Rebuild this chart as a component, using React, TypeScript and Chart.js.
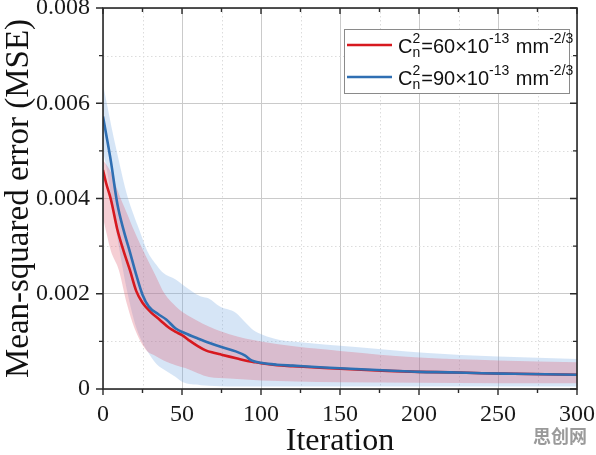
import { useEffect, useRef } from 'react';
import { Chart, registerables } from 'chart.js';

Chart.register(...registerables);

// Mean MSE curves (iteration, value)
const redIter = [0, 2, 5, 9, 13, 17, 21, 25, 30, 36, 42, 46, 50, 55, 60, 65, 70, 75, 80, 85, 90, 95, 100, 110, 120, 140, 160, 180, 200, 220, 240, 260, 280, 300];
const redMse = [0.0046, 0.00432, 0.00398, 0.00336, 0.0029, 0.0025, 0.00206, 0.00181, 0.00162, 0.00145, 0.00128, 0.0012, 0.00113, 0.00101, 0.0009, 0.00081, 0.00076, 0.00072, 0.00068, 0.00064, 0.0006, 0.00057, 0.00054, 0.0005, 0.00048, 0.00044, 0.00041, 0.00038, 0.00036, 0.00035, 0.00033, 0.00032, 0.00031, 0.0003];

const blueIter = [0, 2, 5, 9, 13, 17, 21, 25, 29, 35, 40, 46, 52, 60, 67, 75, 84, 90, 94, 100, 110, 120, 140, 160, 180, 200, 220, 240, 260, 280, 300];
const blueMse = [0.00572, 0.00535, 0.00478, 0.0039, 0.00334, 0.00288, 0.0024, 0.00198, 0.00173, 0.00157, 0.00146, 0.00127, 0.00117, 0.00106, 0.00097, 0.00088, 0.00079, 0.0007, 0.0006, 0.00055, 0.00051, 0.00049, 0.00045, 0.00042, 0.00039, 0.00036, 0.00035, 0.00033, 0.00032, 0.00031, 0.0003];

// Spread bands (upper / lower bounds)
const redBandIter = [0, 2, 5, 10, 15, 20, 27, 33, 39, 46, 52, 60, 67, 80, 90, 100, 122, 150, 200, 250, 300];
const redUpper = [0.0048, 0.00472, 0.00455, 0.0041, 0.0037, 0.0033, 0.0028, 0.0024, 0.002, 0.00174, 0.00158, 0.00143, 0.00131, 0.00115, 0.00106, 0.001, 0.00089, 0.0008, 0.00066, 0.0006, 0.00056];
const redLower = [0.0036, 0.0033, 0.0029, 0.0025, 0.0018, 0.00127, 0.00083, 0.0007, 0.00059, 0.0005, 0.00044, 0.00033, 0.00025, 0.00022, 0.0002, 0.00018, 0.00016, 0.00014, 0.00013, 0.00012, 0.00012];

const blueBandIter = [0, 3, 6, 10, 15, 20, 23, 28, 34, 38, 46, 50, 62, 67, 74, 84, 90, 95, 101, 112, 120, 160, 203, 250, 300];
const blueUpper = [0.0064, 0.0059, 0.0054, 0.0048, 0.0041, 0.0036, 0.00334, 0.0029, 0.0026, 0.00244, 0.0023, 0.0022, 0.00194, 0.0019, 0.00173, 0.0016, 0.0014, 0.00124, 0.00114, 0.00103, 0.001, 0.00088, 0.00076, 0.00068, 0.00063];
const blueLower = [0.005, 0.0045, 0.0038, 0.003, 0.0021, 0.0014, 0.00112, 0.0008, 0.00052, 0.00042, 0.00025, 0.00015, 0.00008, 0.00007, 0.00006, 0.00005, 0.00005, 0.00005, 0.00005, 0.00005, 0.00005, 0.00005, 0.00005, 0.00005, 0.00005];

// Legend: C_n^2 values (×10^-13 mm^-2/3)
const legendValues = ['60', '90'];

const X_MIN = 0;
const X_MAX = 300;
const X_STEP = 25;
const Y_MIN = 0;
const Y_MAX = 0.008;
const Y_STEP = 0.001;

const RED = '#d7191f';
const BLUE = '#2f6fb3';
const RED_FILL = 'rgba(222, 92, 112, 0.30)';
const BLUE_FILL = 'rgba(120, 170, 225, 0.30)';
const GRID = '#cacaca';
const MINOR_GRID = '#dcdcdc';
const FRAME = '#2a2a2a';

const SERIF = "'Liberation Serif', 'Times New Roman', Times, serif";
const SANS = "'Liberation Sans', Arial, Helvetica, sans-serif";
const CJK = "'Noto Sans CJK SC', 'Noto Sans CJK TC', sans-serif";

const pts = (xs: number[], ys: number[]) => xs.map((x, i) => ({ x, y: ys[i] }));

const isMajorX = (v: number) => Math.round(v) % 50 === 0;
const isMajorY = (v: number) => Math.round(v * 1000) % 2 === 0;

// dotted minor grid lines
const minorGrid = {
  id: 'minorGrid',
  beforeDatasetsDraw(chart: any) {
    const { ctx, chartArea: a, scales } = chart;
    ctx.save();
    ctx.strokeStyle = MINOR_GRID;
    ctx.lineWidth = 1;
    ctx.setLineDash([1.5, 2.5]);
    for (let v = X_MIN + X_STEP; v < X_MAX; v += X_STEP) {
      if (isMajorX(v)) continue;
      const px = Math.round(scales.x.getPixelForValue(v)) + 0.5;
      ctx.beginPath();
      ctx.moveTo(px, a.top);
      ctx.lineTo(px, a.bottom);
      ctx.stroke();
    }
    for (let i = 1; i < Math.round((Y_MAX - Y_MIN) / Y_STEP); i++) {
      const v = Y_MIN + i * Y_STEP;
      if (isMajorY(v)) continue;
      const py = Math.round(scales.y.getPixelForValue(v)) + 0.5;
      ctx.beginPath();
      ctx.moveTo(a.left, py);
      ctx.lineTo(a.right, py);
      ctx.stroke();
    }
    ctx.restore();
  },
};

// box frame with tick marks: outward on left/bottom, inward on top/right
const frame = {
  id: 'frame',
  afterDatasetsDraw(chart: any) {
    const { ctx, chartArea: a, scales } = chart;
    ctx.save();
    ctx.strokeStyle = FRAME;
    ctx.lineWidth = 1.6;
    ctx.strokeRect(a.left, a.top, a.right - a.left, a.bottom - a.top);
    ctx.lineWidth = 1.4;
    ctx.beginPath();
    for (let v = X_MIN; v <= X_MAX; v += X_STEP) {
      const px = scales.x.getPixelForValue(v);
      const len = isMajorX(v) ? 6 : 4;
      ctx.moveTo(px, a.bottom);
      ctx.lineTo(px, a.bottom + len);
      ctx.moveTo(px, a.top);
      ctx.lineTo(px, a.top + len);
    }
    const n = Math.round((Y_MAX - Y_MIN) / Y_STEP);
    for (let i = 0; i <= n; i++) {
      const v = Y_MIN + i * Y_STEP;
      const py = scales.y.getPixelForValue(v);
      const len = isMajorY(v) ? 7 : 4;
      ctx.moveTo(a.left, py);
      ctx.lineTo(a.left - len, py);
      ctx.moveTo(a.right, py);
      ctx.lineTo(a.right - len, py);
    }
    ctx.stroke();
    ctx.restore();
  },
};

type Part = { t?: string; sup?: string; sub?: string };

function drawRich(ctx: CanvasRenderingContext2D, x: number, base: number, parts: Part[]) {
  const main = `20px ${SANS}`;
  const small = `14px ${SANS}`;
  let cx = x;
  for (const p of parts) {
    if (p.t) {
      ctx.font = main;
      ctx.fillText(p.t, cx, base);
      cx += ctx.measureText(p.t).width;
    } else {
      ctx.font = small;
      let w = 0;
      if (p.sup) {
        ctx.fillText(p.sup, cx, base - 10);
        w = Math.max(w, ctx.measureText(p.sup).width);
      }
      if (p.sub) {
        ctx.fillText(p.sub, cx, base + 4);
        w = Math.max(w, ctx.measureText(p.sub).width);
      }
      cx += w + 1;
    }
  }
}

const legendBox = {
  id: 'legendBox',
  afterDraw(chart: any) {
    const { ctx } = chart;
    ctx.save();
    const bx = 344.5, by = 29.5, bw = 225, bh = 64;
    ctx.fillStyle = '#ffffff';
    ctx.fillRect(bx, by, bw, bh);
    ctx.strokeStyle = '#8a8a8a';
    ctx.lineWidth = 1;
    ctx.strokeRect(bx, by, bw, bh);
    const colors = [RED, BLUE];
    legendValues.forEach((val, i) => {
      const base = 53 + i * 32;
      ctx.strokeStyle = colors[i];
      ctx.lineWidth = 2.5;
      ctx.beginPath();
      ctx.moveTo(347, base - 8);
      ctx.lineTo(392, base - 8);
      ctx.stroke();
      ctx.fillStyle = '#111';
      ctx.textBaseline = 'alphabetic';
      ctx.textAlign = 'left';
      drawRich(ctx, 398, base, [
        { t: 'C' },
        { sup: '2', sub: 'n' },
        { t: `=${val}×10` },
        { sup: '-13' },
        { t: ' mm' },
        { sup: '-2/3' },
      ]);
    });
    // site mark
    ctx.font = `bold 18px ${CJK}`;
    ctx.fillStyle = 'rgba(120,120,120,0.75)';
    ctx.fillText('思创网', 533, 443);
    ctx.restore();
  },
};

export default function App() {
  const ref = useRef<HTMLCanvasElement | null>(null);

  useEffect(() => {
    if (!ref.current) return;
    const chart = new Chart(ref.current, {
      type: 'line',
      data: {
        datasets: [
          {
            label: 'blue',
            data: pts(blueIter, blueMse),
            borderColor: BLUE,
            borderWidth: 2.6,
            pointRadius: 0,
            fill: false,
            cubicInterpolationMode: 'monotone',
          },
          {
            label: 'red',
            data: pts(redIter, redMse),
            borderColor: RED,
            borderWidth: 2.6,
            pointRadius: 0,
            fill: false,
            cubicInterpolationMode: 'monotone',
          },
          {
            label: 'red upper',
            data: pts(redBandIter, redUpper),
            borderWidth: 0,
            borderColor: 'rgba(0,0,0,0)',
            backgroundColor: RED_FILL,
            pointRadius: 0,
            fill: '+1',
            cubicInterpolationMode: 'monotone',
          },
          {
            label: 'red lower',
            data: pts(redBandIter, redLower),
            borderWidth: 0,
            borderColor: 'rgba(0,0,0,0)',
            pointRadius: 0,
            fill: false,
            cubicInterpolationMode: 'monotone',
          },
          {
            label: 'blue upper',
            data: pts(blueBandIter, blueUpper),
            borderWidth: 0,
            borderColor: 'rgba(0,0,0,0)',
            backgroundColor: BLUE_FILL,
            pointRadius: 0,
            fill: '+1',
            cubicInterpolationMode: 'monotone',
          },
          {
            label: 'blue lower',
            data: pts(blueBandIter, blueLower),
            borderWidth: 0,
            borderColor: 'rgba(0,0,0,0)',
            pointRadius: 0,
            fill: false,
            cubicInterpolationMode: 'monotone',
          },
        ],
      },
      options: {
        animation: false,
        responsive: false,
        devicePixelRatio: 1,
        layout: { padding: { top: 8, right: 19, left: 0, bottom: 0 } },
        plugins: {
          legend: { display: false },
          tooltip: { enabled: false },
        },
        scales: {
          x: {
            type: 'linear',
            min: X_MIN,
            max: X_MAX,
            border: { display: false },
            grid: {
              drawTicks: false,
              lineWidth: 1,
              color: (c: any) => (c.tick && isMajorX(c.tick.value) ? GRID : 'rgba(0,0,0,0)'),
            },
            ticks: {
              stepSize: X_STEP,
              autoSkip: false,
              maxRotation: 0,
              padding: 11,
              color: '#1a1a1a',
              font: { family: SERIF, size: 24 },
              callback: (v: any) => (isMajorX(Number(v)) ? String(Math.round(Number(v))) : ''),
            },
            title: {
              display: true,
              text: 'Iteration',
              color: '#111',
              font: { family: SERIF, size: 32, lineHeight: 1 },
              padding: { top: 0, bottom: -3 },
            },
            afterFit: (s: any) => {
              s.height = 66;
              s.paddingLeft = 0;
              s.paddingRight = 0;
            },
          },
          y: {
            type: 'linear',
            min: Y_MIN,
            max: Y_MAX,
            border: { display: false },
            grid: {
              drawTicks: false,
              lineWidth: 1,
              color: (c: any) => (c.tick && isMajorY(c.tick.value) ? GRID : 'rgba(0,0,0,0)'),
            },
            ticks: {
              stepSize: Y_STEP,
              autoSkip: false,
              padding: 13,
              color: '#1a1a1a',
              font: { family: SERIF, size: 24 },
              callback: (v: any) => {
                const k = Math.round(Number(v) * 1000);
                if (k % 2 !== 0) return '';
                return k === 0 ? '0' : (k / 1000).toFixed(3);
              },
            },
            title: {
              display: true,
              text: 'Mean-squared error (MSE)',
              color: '#111',
              font: { family: SERIF, size: 33, lineHeight: 1.2 },
              padding: { top: 0, bottom: 0 },
            },
            afterFit: (s: any) => {
              s.width = 103;
              s.paddingTop = 0;
              s.paddingBottom = 0;
            },
          },
        },
      },
      plugins: [minorGrid, frame, legendBox],
    });
    return () => chart.destroy();
  }, []);

  return (
    <div style={{ position: 'absolute', left: 0, top: 0, width: 596, height: 455, background: '#fff' }}>
      <canvas ref={ref} width={596} height={455} style={{ display: 'block' }} />
    </div>
  );
}
